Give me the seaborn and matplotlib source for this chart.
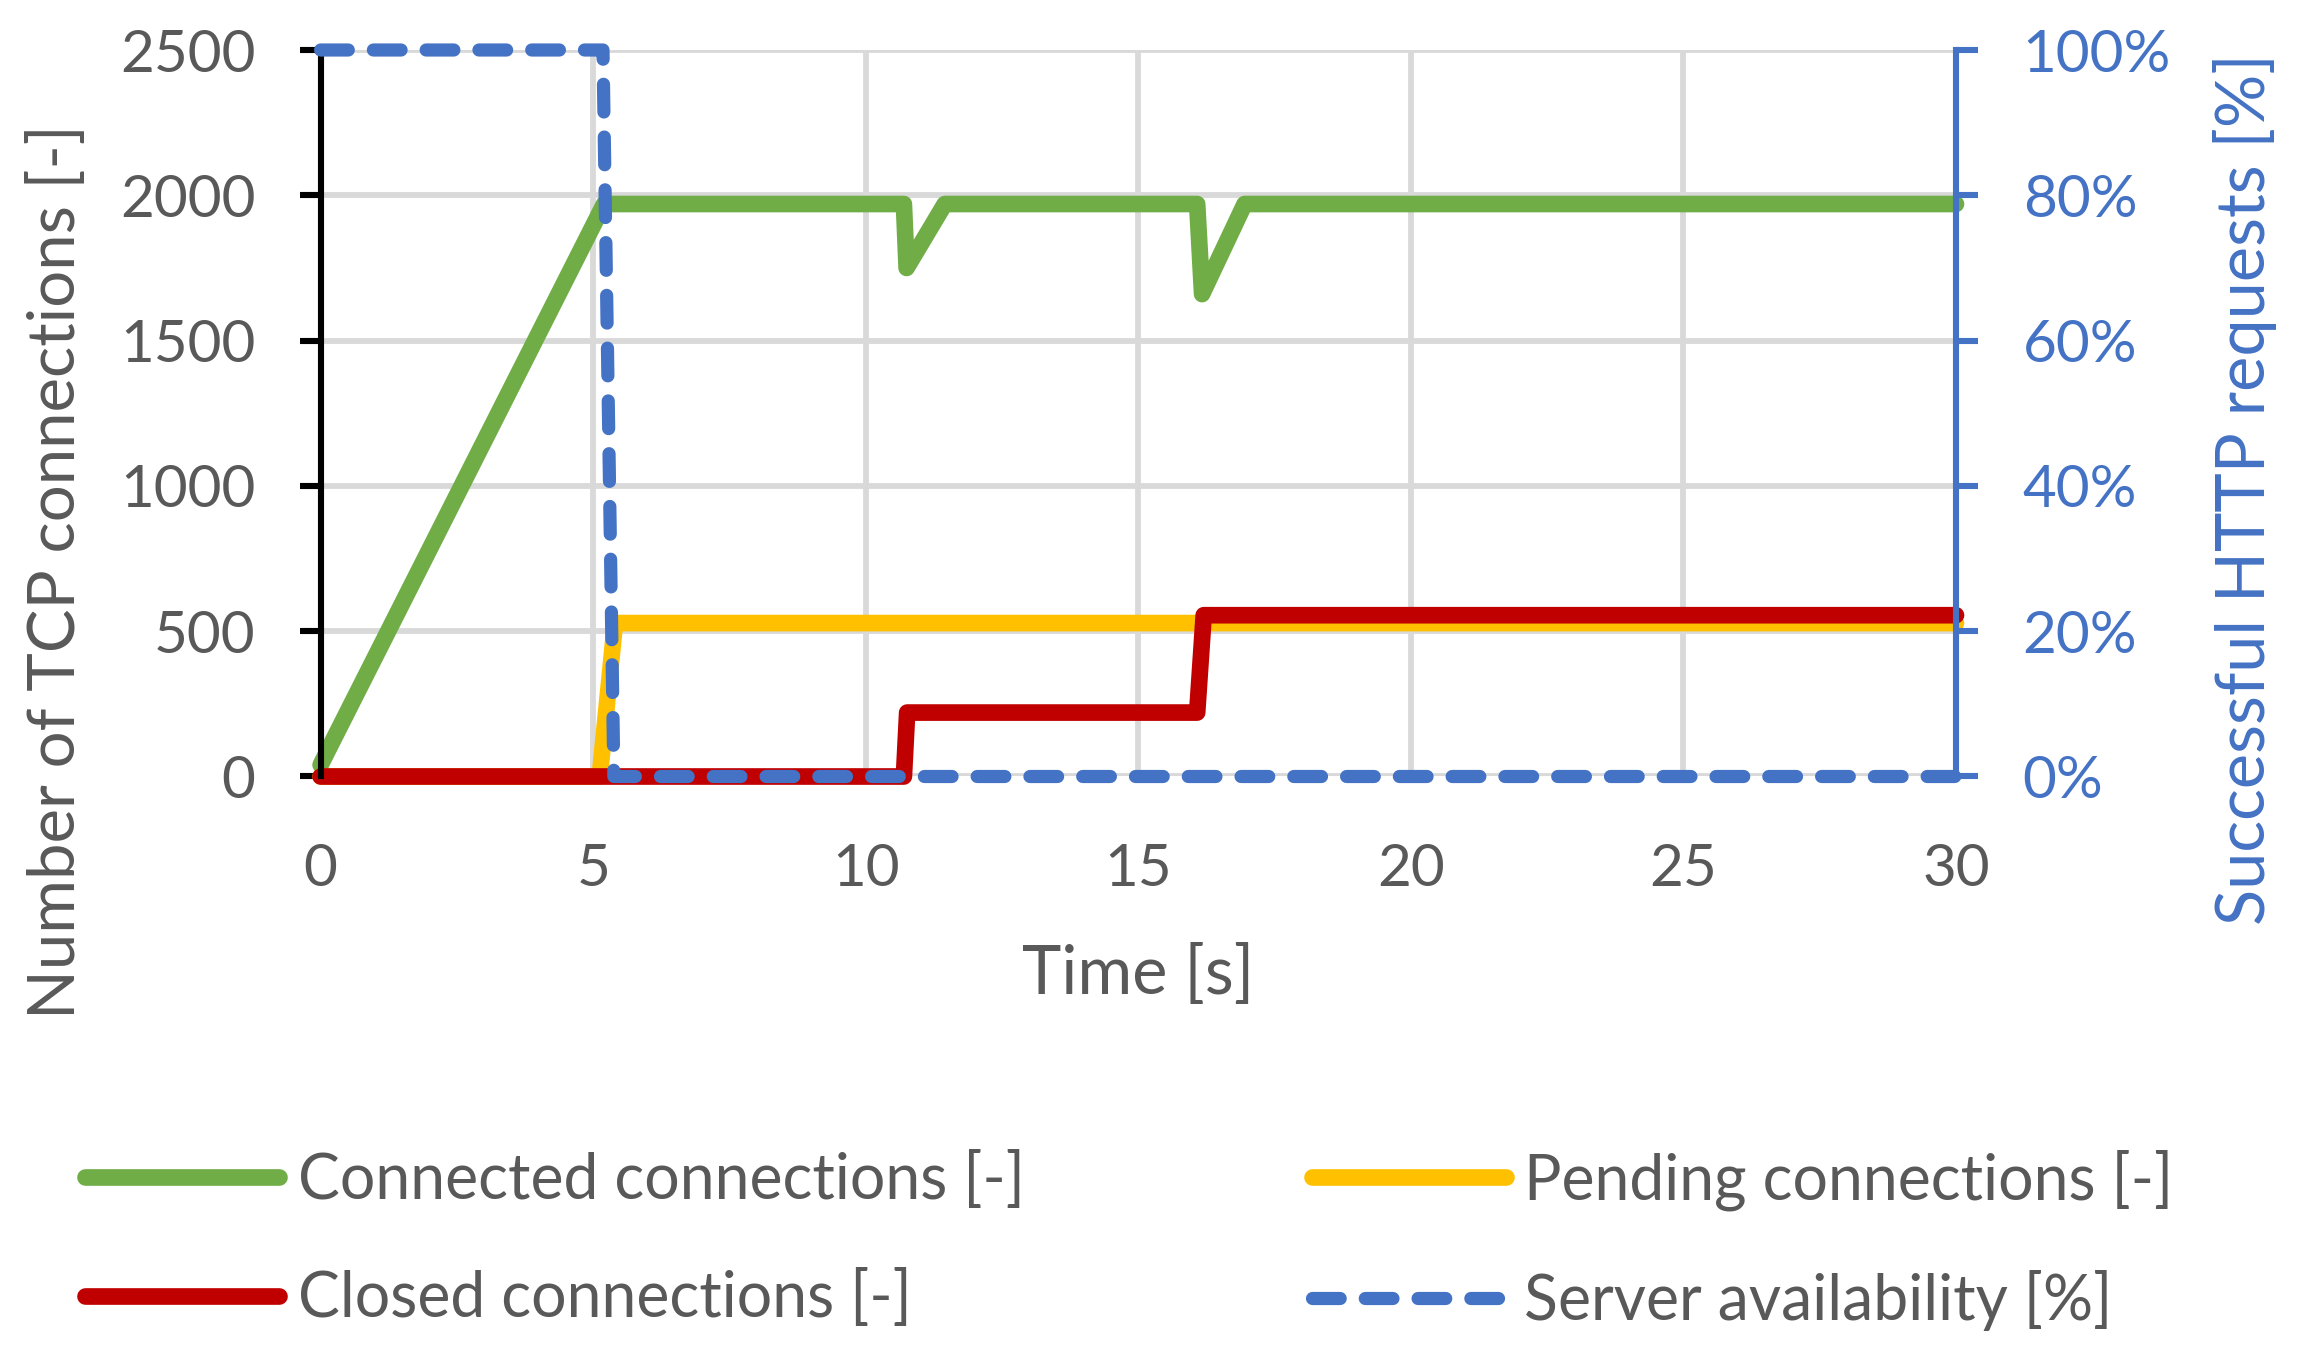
import pandas as pd
import seaborn as sns
import matplotlib.pyplot as plt

sns.set_theme(style="white")
plt.rcParams['font.family'] = ['Lato', 'DejaVu Sans']

# values
conn_t = [0, 5.2, 10.7, 10.75, 11.45, 16.08, 16.17, 16.95, 30]
conn_v = [40, 1970, 1970, 1750, 1970, 1970, 1660, 1970, 1970]
pend_t = [0, 5.12, 5.4, 30]
pend_v = [0, 0, 528, 528]
closed_t = [0, 10.7, 10.76, 16.08, 16.2, 30]
closed_v = [0, 0, 220, 220, 555, 555]
avail_t = [0, 5.18, 5.38, 30]
avail_v = [100, 100, 0, 0]

names = ['Connected connections [-]', 'Pending connections [-]', 'Closed connections [-]']
colors = {names[0]: '#70AD47', names[1]: '#FFC000', names[2]: '#C00000'}
BLUE = '#4472C4'
GREY = '#595959'

df = pd.concat([
    pd.DataFrame({'time': conn_t, 'value': conn_v, 'series': names[0]}),
    pd.DataFrame({'time': pend_t, 'value': pend_v, 'series': names[1]}),
    pd.DataFrame({'time': closed_t, 'value': closed_v, 'series': names[2]}),
])

fig = plt.figure(figsize=(23.06, 13.53), dpi=100)
ax = fig.add_axes([320.6 / 2306, 1 - 776.5 / 1353, 1635.4 / 2306, 726.5 / 1353])
ax2 = ax.twinx()

sns.lineplot(data=df, x='time', y='value', hue='series', hue_order=names,
             palette=colors, estimator=None, sort=False, linewidth=12,
             solid_capstyle='round', solid_joinstyle='round', clip_on=False,
             legend=False, ax=ax)
sns.lineplot(x=avail_t, y=avail_v, color=BLUE, estimator=None, sort=False,
             linewidth=9.5, dash_capstyle='round', clip_on=False, ax=ax2)
ax2.lines[0].set_dashes([2.1, 1.9])

ax.set_xlim(0, 30)
ax.set_ylim(0, 2500)
ax2.set_ylim(0, 100)
ax.set_xticks(range(0, 31, 5))
ax.set_yticks(range(0, 2501, 500))
ax2.set_yticks(range(0, 101, 20))
ax2.set_yticklabels([f'{v}%' for v in range(0, 101, 20)])

ax.grid(True, color='#D9D9D9', linewidth=4.2)
ax.set_axisbelow(True)
ax2.grid(False)
for a in (ax, ax2):
    for s in ('top', 'bottom', 'left', 'right'):
        a.spines[s].set_visible(False)
ax.spines['left'].set_visible(True)
ax.spines['left'].set_color('black')
ax.spines['left'].set_linewidth(4.4)
ax2.spines['right'].set_visible(True)
ax2.spines['right'].set_color(BLUE)
ax2.spines['right'].set_linewidth(4.4)

ax.tick_params(axis='y', direction='out', length=15, width=4.4, color='black',
               pad=32, labelsize=42, labelcolor=GREY, left=True)
ax.tick_params(axis='x', length=0, pad=48, labelsize=42, labelcolor=GREY)
ax2.tick_params(axis='y', direction='out', length=16, width=4.4, color=BLUE,
                pad=32, labelsize=42, labelcolor=BLUE, right=True)

ax.set_xlabel('Time [s]', fontsize=48, color=GREY, va='center')
ax.xaxis.set_label_coords(0.5, -0.273)
ax.set_ylabel('Number of TCP connections [-]', fontsize=47, color=GREY, va='center')
ax.yaxis.set_label_coords(-0.162, 0.282)
ax2.set_ylabel('Successful HTTP requests [%]', fontsize=48, color=BLUE, va='center')
ax2.yaxis.set_label_coords(1.177, 0.396)

handles = ax.lines[:3] + ax2.lines[:1]
labels = names + ['Server availability [%]']
order = [0, 2, 1, 3]
fig.legend([handles[i] for i in order], [labels[i] for i in order],
           ncol=2, loc='center left', bbox_to_anchor=(85 / 2306, 0.0835),
           frameon=False, fontsize=45, labelcolor=GREY, handlelength=3.1,
           handletextpad=0.3, columnspacing=4.6, labelspacing=0.95,
           borderpad=0, borderaxespad=0)

fig.savefig('out.png', dpi=100)
